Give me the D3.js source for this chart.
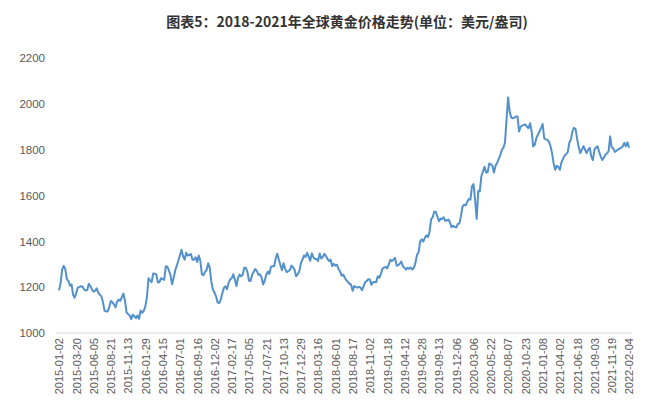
<!DOCTYPE html>
<html><head><meta charset="utf-8">
<script src="https://cdn.jsdelivr.net/npm/d3@7"></script>
<style>
html,body{margin:0;padding:0;background:#fff;}
svg{display:block;}
</style></head>
<body>
<svg id="chart" width="651" height="406"></svg>
<script>
const title = "图表5：2018-2021年全球黄金价格走势(单位：美元/盎司)";
const yTicks = [1000, 1200, 1400, 1600, 1800, 2000, 2200];
const xTickLabels = ["2015-01-02","2015-03-20","2015-06-05","2015-08-21","2015-11-13","2016-01-29","2016-04-15","2016-07-01","2016-09-16","2016-12-02","2017-02-17","2017-05-05","2017-07-21","2017-10-13","2017-12-29","2018-03-16","2018-06-01","2018-08-17","2018-11-02","2019-01-18","2019-04-12","2019-06-28","2019-09-13","2019-12-06","2020-03-06","2020-05-22","2020-08-07","2020-10-23","2021-01-08","2021-04-02","2021-06-18","2021-09-03","2021-11-19","2022-02-04"];
const labelStep = 11; // one label every 11 weekly points

// weekly gold price, USD/oz
const price2015 = [1186,1216,1277,1293,1279,1235,1227,1206,1212,1166,
 1154,1175,1198,1201,1204,1202,1190,1185,1188,1215,
 1205,1190,1180,1185,1195,1176,1167,1160,1134,1098,
 1095,1094,1114,1140,1134,1125,1112,1137,1146,1140,
 1156,1172,1142,1090,1083,1077,1060,1080,1074,1065,
 1076,1062];
const price2016 = [1098,1089,1097,1116,1157,1239,1230,1222,1260,1259,
 1255,1220,1222,1239,1235,1232,1291,1289,1273,1252,
 1213,1240,1273,1294,1315,1339,1363,1335,1320,1350,
 1338,1340,1345,1320,1320,1330,1310,1338,1315,1256,
 1253,1266,1275,1304,1285,1225,1190,1177,1160,1133,
 1131,1146];
const price2017 = [1173,1197,1204,1191,1219,1234,1239,1256,1234,1205,
 1240,1255,1247,1255,1285,1284,1266,1228,1227,1254,
 1267,1279,1271,1254,1256,1242,1212,1228,1254,1268,
 1258,1289,1291,1291,1325,1346,1320,1297,1274,1304,
 1281,1266,1270,1275,1294,1288,1276,1248,1256,1268,
 1303];
const price2018 = [1320,1338,1332,1350,1333,1315,1348,1330,1323,1323,
 1314,1347,1325,1332,1345,1336,1323,1314,1320,1291,
 1302,1294,1298,1279,1268,1250,1255,1241,1230,1223,
 1214,1212,1184,1205,1201,1198,1201,1199,1187,1205,
 1222,1227,1235,1233,1210,1222,1223,1222,1248,1241,
 1258,1281];
const price2019 = [1285,1289,1282,1298,1319,1314,1320,1327,1294,1296,
 1302,1312,1291,1285,1276,1285,1280,1286,1277,1284,
 1306,1341,1352,1400,1409,1399,1415,1426,1419,1443,
 1497,1505,1530,1528,1507,1488,1500,1497,1505,1489,
 1492,1495,1482,1462,1468,1463,1460,1476,1478,1510];
const price2020 = [1552,1560,1557,1572,1585,1582,1640,1650,1580,1498,
 1620,1618,1685,1705,1725,1700,1702,1740,1736,1730,
 1700,1730,1742,1760,1775,1800,1808,1830,1930,2028,
 1966,1940,1937,1940,1945,1945,1879,1900,1905,1908,
 1910,1900,1894,1915,1880,1814,1821,1850,1865,1880];
const price2021 = [1895,1912,1850,1845,1843,1835,1815,1785,1740,1712,
 1730,1725,1712,1745,1760,1775,1780,1790,1830,1845,
 1880,1895,1890,1845,1810,1785,1800,1815,1800,1785,
 1800,1808,1770,1755,1800,1810,1815,1790,1770,1755,
 1765,1778,1785,1793,1858,1810,1805,1790,1795,1800,
 1805,1808,1815,1830,1815,1832,1808];

const values = [].concat(price2015, price2016, price2017, price2018, price2019, price2020, price2021);

const svg = d3.select("#chart");
const x = d3.scaleLinear().domain([0, values.length - 1]).range([59, 629]);
const y = d3.scaleLinear().domain([1000, 2200]).range([333, 58]);

// title
svg.append("text")
  .attr("x", 347).attr("y", 27)
  .attr("text-anchor", "middle")
  .attr("font-family", "'Noto Sans CJK SC', sans-serif")
  .attr("font-weight", "bold")
  .attr("font-size", 14)
  .attr("fill", "#333")
  .text(title);

// y axis labels
const yAxis = d3.axisLeft(y).tickValues(yTicks).tickSize(0).tickPadding(0).tickFormat(d3.format("d"));
const gy = svg.append("g").attr("transform", "translate(45,0)").call(yAxis);
gy.select(".domain").remove();
gy.selectAll("text")
  .attr("font-family", "'Liberation Sans', Arial, sans-serif")
  .attr("font-size", 11.5)
  .attr("fill", "#595959");

// baseline
svg.append("line")
  .attr("x1", 56).attr("x2", 632)
  .attr("y1", y(1000)).attr("y2", y(1000))
  .attr("stroke", "#d9d9d9").attr("stroke-width", 1);

// x axis labels
const tickIdx = xTickLabels.map((d, i) => i * labelStep);
const xAxis = d3.axisBottom(x).tickValues(tickIdx).tickSize(0).tickPadding(0)
  .tickFormat((d, i) => xTickLabels[i]);
const gx = svg.append("g").attr("transform", `translate(0,${y(1000)})`).call(xAxis);
gx.select(".domain").remove();
gx.selectAll("text")
  .attr("font-family", "'Liberation Sans', Arial, sans-serif")
  .attr("font-size", 11)
  .attr("fill", "#595959")
  .attr("text-anchor", "end")
  .attr("transform", "rotate(-90)")
  .attr("x", -5).attr("y", 0).attr("dy", "0.35em");

// line
const line = d3.line().x((d, i) => x(i)).y(d => y(d)).curve(d3.curveLinear);
svg.append("path")
  .datum(values)
  .attr("fill", "none")
  .attr("stroke", "#5291cc")
  .attr("stroke-width", 2)
  .attr("stroke-linejoin", "round")
  .attr("d", line);
</script>
</body></html>
